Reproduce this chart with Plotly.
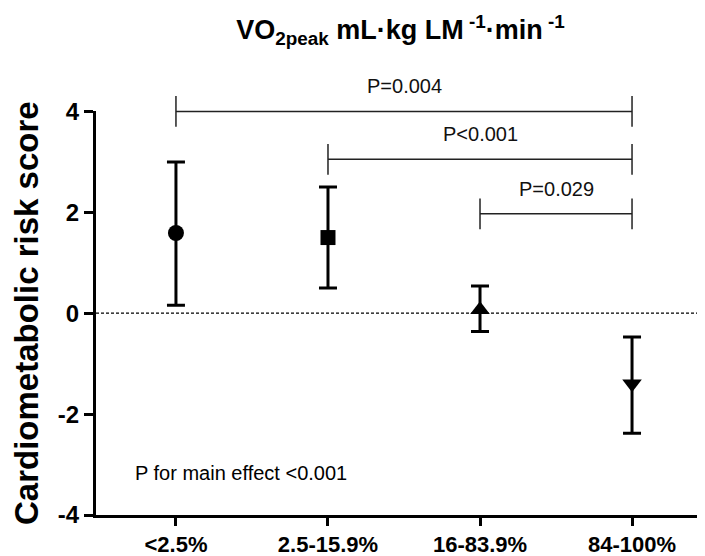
import plotly.graph_objects as go

# ---- data ----
categories = ["<2.5%", "2.5-15.9%", "16-83.9%", "84-100%"]
means = [1.59, 1.50, 0.07, -1.40]
err_upper = [1.41, 1.00, 0.47, 0.93]
err_lower = [1.43, 1.00, 0.43, 0.98]
symbols = ["circle", "square", "triangle-up", "triangle-down"]
marker_sizes = [16, 15, 17, 17]

y_ticks = [-4, -2, 0, 2, 4]
y_tick_labels = ["-4", "-2", "0", "2", "4"]

bracket_start = [0, 1, 2]
bracket_end = [3, 3, 3]
bracket_level = [4.0, 3.05, 1.97]
bracket_labels = ["P=0.004", "P<0.001", "P=0.029"]

main_effect_text = "P for main effect <0.001"
main_effect_pos = (-0.28, -3.17)

FONT = "Arial, Liberation Sans, sans-serif"
x_pos = list(range(len(categories)))
x_range = [-0.526, 3.48]
y_main = [-4, 4]
y_top = 5.0

# the page body has an 8px default margin; size the figure to fill the window
BODY = 8
W, H = 705 - BODY, 556 - BODY

fig = go.Figure()

# data points with error bars
fig.add_trace(go.Scatter(
    x=x_pos, y=means, mode="markers",
    marker=dict(symbol=symbols, size=marker_sizes, color="black", opacity=1,
                line=dict(width=0)),
    error_y=dict(type="data", symmetric=False, array=err_upper, arrayminus=err_lower,
                 thickness=3, width=9, color="black"),
    xaxis="x", yaxis="y", showlegend=False, hoverinfo="skip", cliponaxis=False,
))

# significance brackets (on an overlay subplot that extends above y=4)
for s, e, lv, lab in zip(bracket_start, bracket_end, bracket_level, bracket_labels):
    fig.add_trace(go.Scatter(
        x=[s, e], y=[lv, lv], mode="lines+markers",
        line=dict(color="#222222", width=1.5),
        marker=dict(symbol="line-ns", size=22, line=dict(color="#222222", width=1.5)),
        xaxis="x2", yaxis="y2", showlegend=False, hoverinfo="skip", cliponaxis=False,
    ))
    fig.add_annotation(x=(s + e) / 2, y=lv, xref="x2", yref="y2", text=lab,
                       showarrow=False, yanchor="bottom", yshift=12,
                       font=dict(family=FONT, size=20, color="#111111"))

# dotted zero line
fig.add_shape(type="line", xref="x domain", yref="y", x0=0, x1=1, y0=0, y1=0,
              line=dict(color="black", width=1.2, dash="3px,2px"), layer="below")

fig.add_annotation(x=main_effect_pos[0], y=main_effect_pos[1], xref="x", yref="y",
                   text=main_effect_text, showarrow=False, xanchor="left", yanchor="middle",
                   font=dict(family=FONT, size=20, color="black"))

dom_main = (y_main[1] - y_main[0]) / (y_top - y_main[0])

fig.update_layout(
    width=W, height=H,
    margin=dict(l=96 - BODY, r=0, t=61 - BODY, b=41),
    plot_bgcolor="rgba(0,0,0,0)", paper_bgcolor="white",
    hovermode=False,
    title=dict(text="<b>VO<sub>2peak</sub> mL·kg LM<sup> -1</sup>·min<sup> -1</sup></b>",
               x=0.5, xref="paper", xanchor="center",
               y=1 - 22 / H, yref="container", yanchor="middle",
               font=dict(family=FONT, size=27, color="black")),
    xaxis=dict(range=x_range, tickvals=x_pos, ticktext=categories,
               showline=True, linewidth=3, linecolor="black",
               ticks="outside", ticklen=8, tickwidth=3, tickcolor="black",
               showgrid=False, zeroline=False,
               tickfont=dict(family=FONT, size=22, color="black", weight="bold"),
               domain=[0, 1], anchor="y"),
    yaxis=dict(range=y_main, tickvals=y_ticks, ticktext=y_tick_labels,
               showline=True, linewidth=3, linecolor="black",
               ticks="outside", ticklen=9, tickwidth=3, tickcolor="black",
               showgrid=False, zeroline=False,
               tickfont=dict(family=FONT, size=24, color="black", weight="bold"),
               title=dict(text="<b>Cardiometabolic risk score</b>", standoff=16,
                          font=dict(family=FONT, size=33, color="black")),
               domain=[0, dom_main], anchor="x"),
    xaxis2=dict(range=x_range, visible=False, domain=[0, 1], anchor="y2"),
    yaxis2=dict(range=[y_main[0], y_top], visible=False, domain=[0, 1], anchor="x2"),
)

fig.write_html("out.html")
